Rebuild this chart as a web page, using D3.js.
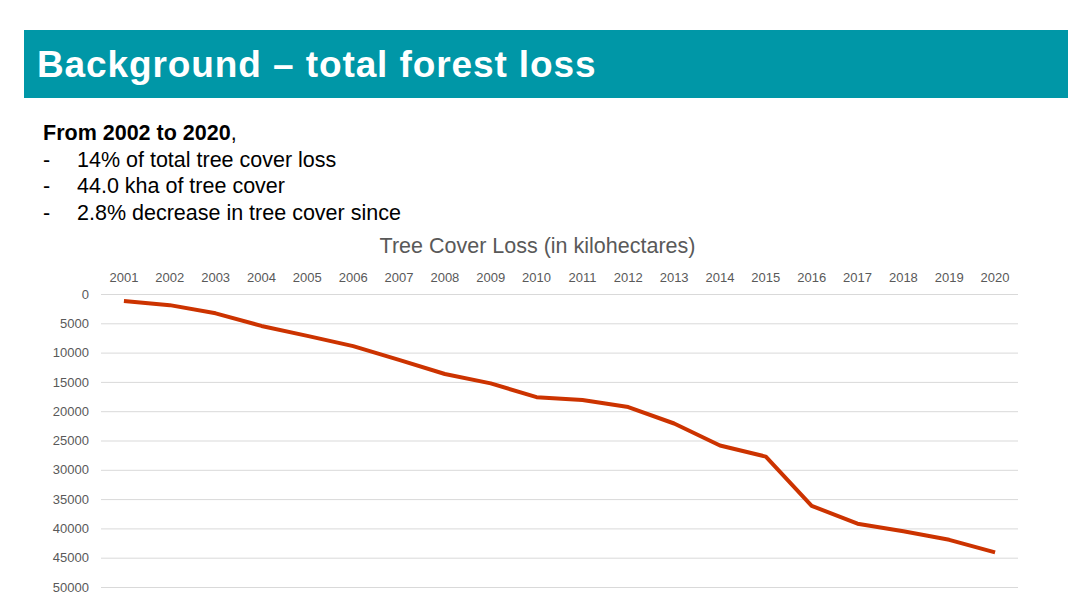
<!DOCTYPE html>
<html>
<head>
<meta charset="utf-8">
<script src="https://cdn.jsdelivr.net/npm/d3@7"></script>
<style>
  body { margin: 0; background: #fff; }
  svg { display: block; font-family: "Liberation Sans", Arial, sans-serif; }
</style>
</head>
<body>
<script>
const w = 1086, h = 601;

// data
const years = ["2001","2002","2003","2004","2005","2006","2007","2008","2009","2010",
               "2011","2012","2013","2014","2015","2016","2017","2018","2019","2020"];
const loss = [1200, 1900, 3300, 5450, 7150, 8900, 11250, 13650, 15250, 17600,
              18100, 19300, 22100, 25850, 27750, 36150, 39200, 40500, 41950, 44100];
const yTicks = [0, 5000, 10000, 15000, 20000, 25000, 30000, 35000, 40000, 45000, 50000];
const bullets = ["14% of total tree cover loss", "44.0 kha of tree cover", "2.8% decrease in tree cover since"];

const svg = d3.select("body").append("svg")
  .attr("width", w)
  .attr("height", h);

// header bar
svg.append("rect")
  .attr("x", 24).attr("y", 30)
  .attr("width", 1044).attr("height", 68)
  .attr("fill", "#0097a7");

svg.append("text")
  .attr("x", 37).attr("y", 77)
  .attr("fill", "#fff")
  .style("font-size", "37px")
  .style("font-weight", "bold")
  .style("letter-spacing", "0.9px")
  .text("Background \u2013 total forest loss");

// intro text
const intro = svg.append("text")
  .attr("x", 43).attr("y", 140)
  .style("font-size", "21.5px")
  .attr("fill", "#000");
intro.append("tspan").style("font-weight", "bold").text("From 2002 to 2020");
intro.append("tspan").text(",");

bullets.forEach((b, i) => {
  const yy = 166.5 + i * 26.5;
  svg.append("text").attr("x", 43).attr("y", yy).style("font-size", "21.5px").text("-");
  svg.append("text").attr("x", 77).attr("y", yy).style("font-size", "21.5px").text(b);
});

// chart
const pLeft = 101, pRight = 1018, pTop = 294, pBottom = 587;

const x = d3.scaleBand().domain(years).range([pLeft, pRight]);
const y = d3.scaleLinear().domain([0, 50000]).range([pTop, pBottom]);

svg.append("text")
  .attr("x", 537.5).attr("y", 253)
  .attr("text-anchor", "middle")
  .attr("fill", "#595959")
  .style("font-size", "21.5px")
  .text("Tree Cover Loss (in kilohectares)");

const yAxis = svg.append("g")
  .attr("transform", "translate(" + pLeft + ",0)")
  .call(d3.axisLeft(y).tickValues(yTicks).tickSize(-(pRight - pLeft)).tickPadding(12).tickFormat(d3.format("d")));
yAxis.select(".domain").remove();
yAxis.selectAll(".tick line").attr("stroke", "#d9d9d9").attr("stroke-width", 1);
yAxis.selectAll(".tick text")
  .attr("fill", "#595959")
  .style("font-size", "13px")
  .style("font-family", "Liberation Sans, Arial, sans-serif");

const xAxis = svg.append("g")
  .attr("transform", "translate(0," + (pTop - 12) + ")")
  .call(d3.axisTop(x).tickSize(0).tickPadding(0));
xAxis.select(".domain").remove();
xAxis.selectAll(".tick text")
  .attr("fill", "#595959")
  .style("font-size", "13px")
  .style("font-family", "Liberation Sans, Arial, sans-serif");

const line = d3.line()
  .x((d, i) => x(years[i]) + x.bandwidth() / 2)
  .y(d => y(d));

svg.append("path")
  .datum(loss)
  .attr("d", line)
  .attr("fill", "none")
  .attr("stroke", "#cc3300")
  .attr("stroke-width", 4)
  .attr("stroke-linejoin", "round");
</script>
</body>
</html>
